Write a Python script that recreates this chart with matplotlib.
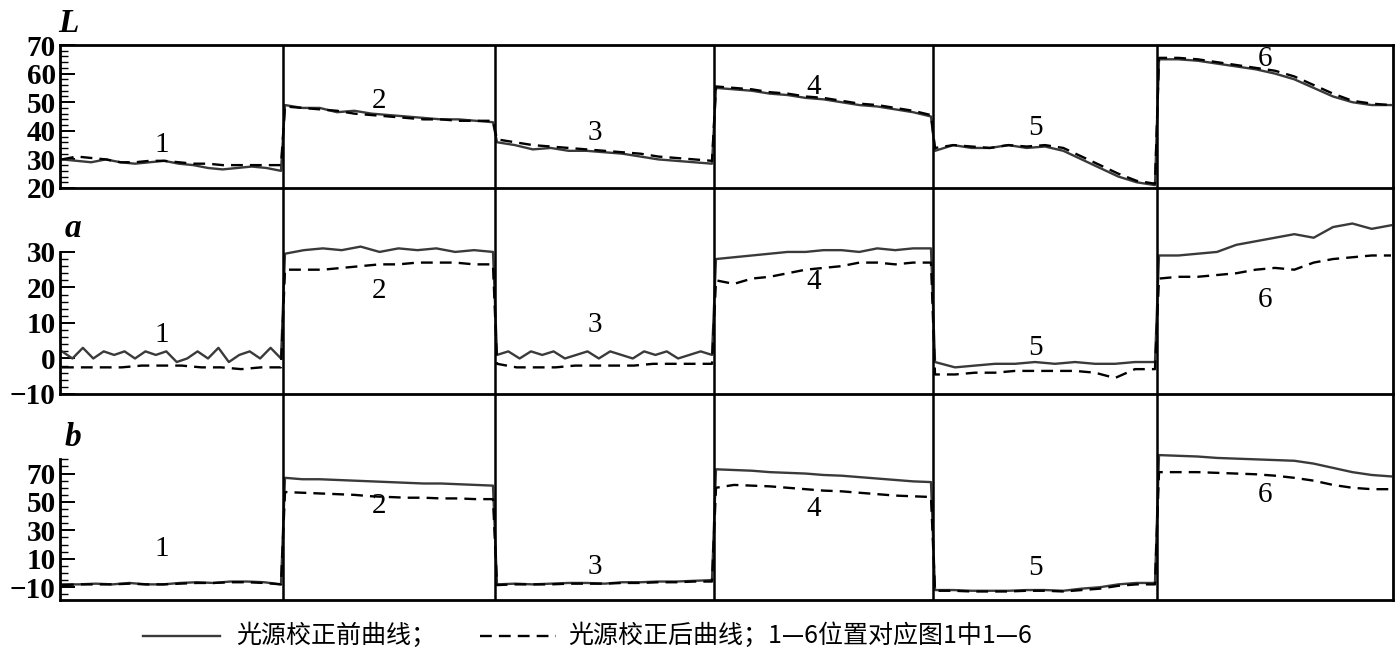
import numpy as np
import matplotlib
matplotlib.use("Agg")
import matplotlib.pyplot as plt
from matplotlib.lines import Line2D

# ---- data ----
L_before = [
    [30, 29.5, 29, 30, 29, 28.5, 29, 29.5, 28.5, 28, 27, 26.5, 27, 27.5, 27, 26],
    [49, 48, 48, 46.5, 47, 46, 45.5, 45, 44.5, 44, 44, 43.5, 43],
    [36, 35, 33.5, 34, 33, 33, 32.5, 32, 31, 30, 29.5, 29, 28.5],
    [55, 54.5, 54, 53, 52.5, 51.5, 51, 50, 49, 48.5, 47.5, 46.5, 45],
    [33, 35, 34, 34, 35, 34, 34.5, 33, 30, 27, 24, 22, 21],
    [65, 65, 64.5, 63.5, 62.5, 61.5, 60, 58, 55, 52, 50, 49, 49],
]
L_after = [
    [30, 31, 30.5, 30, 29, 29, 29.5, 29.5, 29, 28.5, 28.5, 28, 28, 28, 28, 28],
    [48.5, 48, 47.5, 47, 46, 45.5, 45, 44.5, 44, 44, 43.5, 43.5, 43.5],
    [37, 36, 35, 34.5, 34, 33.5, 33, 32.5, 32, 31, 30.5, 30, 29.5],
    [55.5, 55, 54.5, 53.5, 53, 52, 51.5, 50.5, 49.5, 49, 48, 47, 45.5],
    [34, 35, 34.5, 34, 35, 34.5, 35, 34, 31, 28, 25, 22.5, 21.5],
    [65.5, 65.5, 65, 64, 63, 62, 61, 59, 56, 53, 50.5, 49.5, 49],
]
a_before = [
    [2, 0, 3, 0, 2, 1, 2, 0, 2, 1, 2, -1, 0, 2, 0, 3, -1, 1, 2, 0, 3, 0],
    [29.5, 30.5, 31, 30.5, 31.5, 30, 31, 30.5, 31, 30, 30.5, 30],
    [1, 2, 0, 2, 1, 2, 0, 1, 2, 0, 2, 1, 0, 2, 1, 2, 0, 1, 2, 1],
    [28, 28.5, 29, 29.5, 30, 30, 30.5, 30.5, 30, 31, 30.5, 31, 31],
    [-1, -2.5, -2, -1.5, -1.5, -1, -1.5, -1, -1.5, -1.5, -1, -1],
    [29, 29, 29.5, 30, 32, 33, 34, 35, 34, 37, 38, 36.5, 37.5],
]
a_after = [
    [-2.5, -2.5, -2.5, -2.5, -2, -2, -2, -2.5, -2.5, -3, -2.5, -2.5],
    [25, 25, 25, 25.5, 26, 26.5, 26.5, 27, 27, 27, 26.5, 26.5],
    [-1.5, -2.5, -2.5, -2.5, -2, -2, -2, -2, -1.5, -1.5, -1.5, -1.5],
    [22, 21, 22.5, 23, 24, 25, 25.5, 26, 27, 27, 26.5, 27, 27],
    [-4.5, -4.5, -4, -4, -3.5, -3.5, -3.5, -3.5, -4, -5.5, -3, -3],
    [22.5, 23, 23, 23.5, 24, 25, 25.5, 25, 27, 28, 28.5, 29, 29],
]
b_before = [
    [-8, -8, -7.5, -8, -7, -8, -8, -7, -6.5, -7, -6, -6, -6.5, -8],
    [67, 66, 66, 65.5, 65, 64.5, 64, 63.5, 63, 63, 62.5, 62, 61.5],
    [-8, -7.5, -8, -7.5, -7, -7, -7.5, -6.5, -6.5, -6, -6, -5.5, -5],
    [73, 72.5, 72, 71, 70.5, 70, 69, 68.5, 67.5, 66.5, 65.5, 64.5, 64],
    [-12, -12, -12.5, -12.5, -12.5, -12, -12, -12.5, -11, -10, -8, -7, -7],
    [83, 82.5, 82, 81, 80.5, 80, 79.5, 79, 77, 74, 71, 69, 68],
]
b_after = [
    [-8.5, -8, -8, -8, -7.5, -8, -8, -7.5, -7, -7, -6.5, -6.5, -7, -8],
    [57, 56.5, 56, 55.5, 55, 54, 53.5, 53, 53, 52.5, 52.5, 52, 52],
    [-8.5, -8, -8, -8, -7.5, -7.5, -7.5, -7, -7, -6.5, -6.5, -6, -6],
    [60, 62, 61.5, 61, 60, 59, 58, 57.5, 56.5, 55.5, 54.5, 54, 53.5],
    [-12.5, -12.5, -13, -13, -13, -12.5, -12.5, -13, -12, -11, -9, -8, -8],
    [71, 71, 71, 70.5, 70, 69.5, 68.5, 67, 65, 62, 60, 59, 59],
]
label_y = {
    "L": [35, 50.3, 39.2, 55.3, 41, 65.2],
    "a": [6.6, 18.9, 9.4, 21.4, 2.9, 16.6],
    "b": [17, 47, 4, 45, 3.3, 55],
}
seg_labels = ["1", "2", "3", "4", "5", "6"]
legend_text = ["光源校正前曲线；", "光源校正后曲线；1—6位置对应图1中1—6"]

# ---- layout ----
bounds = [0, 223, 435, 654, 873, 1097, 1333]
serif = ["Liberation Serif", "DejaVu Serif"]
cjk = ["Noto Sans CJK SC", "DejaVu Sans"]
fig = plt.figure(figsize=(13.97, 6.59), dpi=100)
W, H = 1397, 659
rows = [
    ("L", L_before, L_after, 45, 188, (20, 70), (20, 70), 10, 2),
    ("a", a_before, a_after, 188, 394, (-10, 48), (-10, 30), 10, 2),
    ("b", b_before, b_after, 394, 600, (-19, 126), (-19, 80), 20, 5),
]

def series(segs):
    xs, ys = [], []
    for i, s in enumerate(segs):
        xs.extend(np.linspace(bounds[i] + 2, bounds[i + 1] - 2, len(s)))
        ys.extend(s)
    return xs, ys

for name, bef, aft, top, bot, ylim, sb, maj, mnr in rows:
    ax = fig.add_axes([60 / W, 1 - bot / H, 1333 / W, (bot - top) / H])
    ax.set_facecolor("none")
    ax.set_xlim(bounds[0], bounds[-1])
    ax.set_ylim(*ylim)
    x, y = series(bef)
    ax.plot(x, y, color="#3a3a3a", lw=1.7)
    x, y = series(aft)
    ax.plot(x, y, color="black", lw=1.7, ls=(0, (5, 3)))
    for bx in bounds[1:-1]:
        ax.axvline(bx, color="black", lw=1.8)
    for i in range(6):
        ax.text((bounds[i] + bounds[i + 1]) / 2 - 10, label_y[name][i], seg_labels[i],
                family=serif, fontsize=21, ha="center", va="center")
    ax.spines["left"].set_bounds(*sb)
    for s in ax.spines.values():
        s.set_linewidth(2)
    if name != "L":
        ax.spines["top"].set_visible(False)
    ax.set_xticks([])
    ticks = np.arange(-10 if name == "b" else sb[0], sb[1] + 0.1, maj)
    ax.set_yticks(ticks)
    mins = np.arange(np.ceil(sb[0] / mnr) * mnr, sb[1] + 0.01, mnr)
    ax.set_yticks(mins, minor=True)
    ax.set_yticklabels([("−%d" % -v) if v < 0 else "%d" % v for v in ticks],
                       family=serif, fontweight="bold", fontsize=21)
    ax.tick_params(axis="y", which="major", direction="in", length=11, width=1.4, pad=3)
    ax.tick_params(axis="y", which="minor", direction="in", length=6, width=1.0)
    ylab = {"L": (68, 23), "a": (73, 228), "b": (73, 437)}[name]
    fig.text(ylab[0] / W, 1 - ylab[1] / H, name, family=serif, fontsize=24,
             style="italic", fontweight="bold", ha="center", va="center")

# legend
ly = 1 - 636 / H
fig.add_artist(Line2D([143 / W, 220 / W], [ly, ly], color="#3a3a3a", lw=1.7))
fig.text(236 / W, ly, legend_text[0], family=cjk, fontsize=18, va="center")
fig.add_artist(Line2D([480 / W, 556 / W], [ly, ly], color="black", lw=1.7, ls=(0, (5, 3))))
fig.text(568 / W, ly, legend_text[1], family=cjk, fontsize=18, va="center")

fig.savefig("out.png", dpi=100)
